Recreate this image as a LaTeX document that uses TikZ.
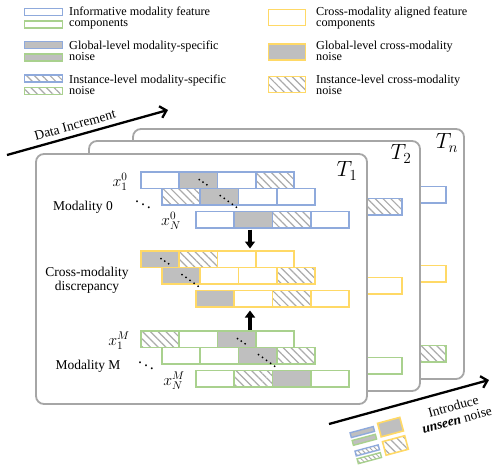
\RequirePackage{fix-cm}
\documentclass[tikz,border=0pt]{standalone}
\usepackage{fontspec}
\setmainfont{Liberation Serif}
\usetikzlibrary{patterns.meta,arrows.meta,calc}
\definecolor{cblue}{HTML}{8FAADC}
\definecolor{cgreen}{HTML}{A9D18E}
\definecolor{cyellow}{HTML}{FFD966}
\definecolor{cgray}{HTML}{BFBFBF}
\definecolor{hgray}{HTML}{ABABAB}
\definecolor{cardgray}{HTML}{A6A6A6}
\tikzset{
  cell/.style={line width=1.8pt},
  cw/.style={fill=white},
  cg/.style={fill=cgray},
  ch/.style={preaction={fill=white},pattern={Lines[angle=-45,distance=5.5pt,line width=1.2pt]},pattern color=hgray},
  card/.style={draw=cardgray,line width=1.8pt,rounded corners=8pt,fill=white},
  rowbox/.style={minimum width=153pt,minimum height=16.5pt,inner sep=0pt,outer sep=0pt,anchor=north west},
  legbox/.style={line width=1.8pt,inner sep=0pt,minimum width=38pt,minimum height=7pt},
  ylegbox/.style={line width=1.8pt,inner sep=0pt,minimum width=37pt,minimum height=16pt,draw=cyellow},
  legtext/.style={anchor=west,align=left,font=\fontsize{12.2}{11.5}\selectfont,inner sep=0pt},
  lab/.style={font=\fontsize{13.5}{14}\selectfont,inner sep=0pt},
  mlab/.style={font=\fontsize{16}{16}\selectfont,inner sep=0pt},
  tlab/.style={font=\fontsize{22}{22}\selectfont,inner sep=0pt},
  dotline/.style={line width=2pt,line cap=round,dash pattern=on 0pt off 4.6pt},
  dotlineb/.style={line width=2pt,line cap=round,dash pattern=on 0pt off 5pt},
  bigarrow/.style={line width=2.3pt,-{Straight Barb[length=6pt,width=12pt]}},
  blockarrow/.style={line width=3.5pt,-{Triangle[length=7pt,width=10pt]}},
}
\newcommand\cellrow[8]{%
  \node[rowbox] (#1) at (#2,#3) {};
  \foreach \s [count=\i from 0] in {#5,#6,#7,#8} {%
    \path[cell,\s,draw=#4] ($(#1.north west)+(\i*38.25,0)$) rectangle ++(38.25,16.5);}
}
\newcommand\dotsab[4]{%
  \draw[dotline] (#1+20,#2+7.5) -- (#1+30,#2+14.5);
  \draw[dotlineb] (#3+20,#4+7) -- (#3+40,#4+21.5);
}
\begin{document}
\begin{tikzpicture}[x=1pt,y=-1pt]
\useasboundingbox (0,0) rectangle (498,469);

% ---------- legend ----------
\node[legbox,draw=cblue,cw] (lb1) at (43.5,12) {};
\node[legbox,draw=cgreen,cw] (lg1) at (43.5,24.5) {};
\node[legbox,draw=cblue,cg] (lb2) at (43.5,45) {};
\node[legbox,draw=cgreen,cg] (lg2) at (43.5,57.5) {};
\node[legbox,draw=cblue,ch] (lb3) at (43.5,78.5) {};
\node[legbox,draw=cgreen,ch] (lg3) at (43.5,91) {};
\node[legtext] (lt1) at (69,18) {Informative modality feature\\components};
\node[legtext] (lt2) at (69,51) {Global-level modality-specific\\noise};
\node[legtext] (lt3) at (69,85) {Instance-level modality-specific\\noise};

\node[ylegbox,cw] (ly1) at (287,17.5) {};
\node[ylegbox,cg] (ly2) at (287,52) {};
\node[ylegbox,ch] (ly3) at (287,84.5) {};
\node[legtext] (rt1) at (316,18) {Cross-modality aligned feature\\components};
\node[legtext] (rt2) at (316,51) {Global-level cross-modality\\noise};
\node[legtext] (rt3) at (316,85) {Instance-level cross-modality\\noise};

% ---------- data increment arrow ----------
\coordinate (di0) at (7,155);
\coordinate (di1) at (168,110);
\draw[bigarrow] (di0) -- (di1) node[lab,pos=0.44,above=5pt,sloped] (ditext) {Data Increment};

% ---------- card Tn ----------
\draw[card] (133,129) rectangle (464,379);
\node[tlab] (tn) at (447,143) {$T_n$};
\path[cell,cw,draw=cblue] (407.75,186.5) rectangle ++(38.25,16.5);
\path[cell,cw,draw=cyellow] (407.75,265.5) rectangle ++(38.25,16.5);
\path[cell,ch,draw=cgreen] (407.75,345.5) rectangle ++(38.25,16.5);

% ---------- card T2 ----------
\draw[card] (89,141) rectangle (420,391);
\node[tlab] (t2) at (401,154) {$T_2$};
\path[cell,ch,draw=cblue] (363.75,198.5) rectangle ++(38.25,16.5);
\path[cell,cw,draw=cyellow] (363.75,277.5) rectangle ++(38.25,16.5);
\path[cell,cw,draw=cgreen] (363.75,357.5) rectangle ++(38.25,16.5);

% ---------- card T1 ----------
\draw[card] (36,154) rectangle (367,404);
\node[tlab] (t1) at (347,171) {$T_1$};

% modality 0
\cellrow{m0a}{141}{172}{cblue}{cw}{cg}{cw}{ch}
\cellrow{m0b}{162}{188.5}{cblue}{ch}{cg}{cw}{cw}
\cellrow{m0c}{196}{211.5}{cblue}{cw}{cg}{ch}{cw}
\dotsab{179.25}{172}{200.25}{188.5}
\node[mlab] (x10) at (120,182) {$x_1^0$};
\node[lab] (mod0) at (83,207) {Modality 0};
\node[mlab] (dd0) at (143,202) {$\ddots$};
\node[mlab] (xn0) at (171,221) {$x_N^0$};

% cross-modality
\cellrow{cra}{141}{251}{cyellow}{cg}{ch}{cw}{cw}
\cellrow{crb}{162}{267.5}{cyellow}{cg}{cw}{cw}{ch}
\cellrow{crc}{196}{290.5}{cyellow}{cg}{cw}{ch}{cw}
\dotsab{141}{251}{162}{267.5}
\node[lab,align=center] (cmd) at (87,280) {Cross-modality\\discrepancy};

% modality M
\cellrow{mMa}{141}{331}{cgreen}{ch}{cw}{cg}{cw}
\cellrow{mMb}{162}{347.5}{cgreen}{cw}{cw}{cg}{ch}
\cellrow{mMc}{196}{370.5}{cgreen}{cw}{ch}{cg}{cw}
\dotsab{217.5}{331}{238.5}{347.5}
\node[mlab] (x1m) at (119,341) {$x_1^M$};
\node[lab] (modm) at (88,366) {Modality M};
\node[mlab] (ddm) at (146,363) {$\ddots$};
\node[mlab] (xnm) at (174,381) {$x_N^M$};

% vertical arrows
\coordinate (ax) at (250,0);
\draw[blockarrow] ($(m0c.south -| ax)+(0,1.5)$) -- ($(cra.north -| ax)+(0,-2.5)$);
\draw[blockarrow] ($(mMa.north -| ax)+(0,-1.5)$) -- ($(crc.south -| ax)+(0,3.5)$);

% ---------- introduce unseen noise ----------
\coordinate (in0) at (329,424);
\coordinate (in1) at (489,380);
\draw[bigarrow] (in0) -- (in1) node[lab,pos=0.75,below=10pt,sloped,align=center] (intext) {Introduce\\\textbf{\textit{unseen}} noise};

\begin{scope}[shift={(381,440)},rotate=15]
  \path[cell,cg,draw=cblue,line width=1.4pt] (-28,-15) rectangle (-4,-10);
  \path[cell,cg,draw=cgreen,line width=1.4pt] (-28,-7) rectangle (-4,-2);
  \path[cell,ch,draw=cblue,line width=1.4pt,pattern={Lines[angle=-45,distance=3.5pt,line width=1pt]}] (-28,4) rectangle (-4,9);
  \path[cell,ch,draw=cgreen,line width=1.4pt,pattern={Lines[angle=-45,distance=3.5pt,line width=1pt]}] (-28,12) rectangle (-4,17);
  \path[cell,cg,draw=cyellow,line width=1.6pt] (1,-17) rectangle (24,-3);
  \path[cell,ch,draw=cyellow,line width=1.6pt] (1,2) rectangle (24,16);
\end{scope}
\end{tikzpicture}
\end{document}
